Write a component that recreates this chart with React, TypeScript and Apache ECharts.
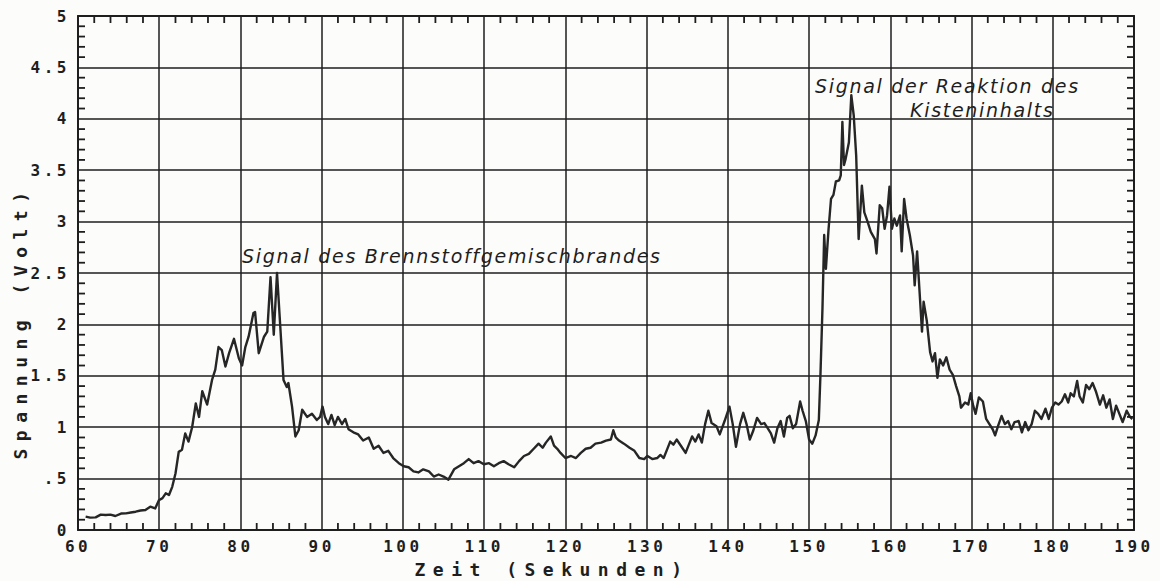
import React, { useEffect, useRef } from "react";
import * as echarts from "echarts";

// ---- data (seconds, volts) ----
const times: number[] = [
  60.94, 61.5, 62.17, 62.8, 63.4, 64.0, 64.6, 65.3, 65.9, 66.5, 67.1, 67.7, 68.3, 68.9, 69.5,
  69.96, 70.4, 70.8, 71.2, 71.6, 72.0, 72.4, 72.8, 73.2, 73.6, 74.05, 74.5, 74.9, 75.3, 75.9,
  76.5, 76.9, 77.3, 77.7, 78.15, 78.6, 79.2, 79.8, 80.2, 80.6, 81.0, 81.6, 81.8, 82.25, 82.9,
  83.3, 83.7, 84.1, 84.5, 84.9, 85.3, 85.7, 85.9, 86.35, 86.76, 87.17, 87.6, 88.2, 88.8, 89.4,
  89.8, 90.1, 90.4, 90.8, 91.2, 91.6, 92.0, 92.5, 92.9, 93.3, 93.9, 94.5, 95.1, 95.8, 96.4,
  97.0, 97.6, 98.2, 98.8, 99.5, 100.1, 100.7, 101.3, 101.9, 102.5, 103.2, 103.8, 104.4, 105.0, 105.6,
  106.3, 106.9, 107.5, 108.1, 108.7, 109.3, 109.96, 110.6, 111.2, 111.8, 112.4, 113.0, 113.7, 114.3, 114.9,
  115.5, 116.1, 116.7, 117.2, 117.6, 118.2, 118.6, 119.0, 119.4, 120.0, 120.7, 121.3, 121.9, 122.5, 123.1,
  123.7, 124.4, 125.0, 125.6, 125.9, 126.2, 126.6, 127.2, 127.9, 128.5, 129.1, 129.7, 130.1, 130.7, 131.3,
  131.7, 132.1, 132.5, 132.9, 133.3, 133.7, 134.3, 134.8, 135.2, 135.6, 136.0, 136.4, 136.8, 137.2, 137.6,
  138.0, 138.6, 139.0, 139.6, 140.2, 140.6, 141.0, 141.5, 141.9, 142.3, 142.7, 143.1, 143.6, 144.1, 144.5,
  144.9, 145.3, 145.7, 146.1, 146.5, 146.9, 147.3, 147.6, 148.0, 148.4, 148.9, 149.2, 149.6, 150.0, 150.4,
  150.8, 151.2, 151.4, 151.65, 151.86, 152.07, 152.4, 152.7, 153.0, 153.3, 153.7, 153.9, 154.1, 154.3, 154.5,
  154.9, 155.2, 155.5, 155.8, 156.1, 156.5, 156.8, 157.2, 157.6, 158.1, 158.3, 158.7, 159.0, 159.3, 159.6,
  159.9, 160.2, 160.5, 160.8, 161.2, 161.4, 161.7, 162.0, 162.4, 162.8, 163.0, 163.3, 163.6, 163.9, 164.1,
  164.5, 164.9, 165.2, 165.5, 165.8, 166.1, 166.5, 166.9, 167.3, 167.7, 168.1, 168.5, 168.7, 169.2, 169.6,
  169.9, 170.2, 170.5, 170.9, 171.4, 171.8, 172.2, 172.6, 172.9, 173.3, 173.7, 174.1, 174.5, 174.9, 175.3,
  175.8, 176.2, 176.6, 177.0, 177.4, 177.8, 178.2, 178.6, 179.1, 179.5, 179.9, 180.3, 180.7, 181.1, 181.5,
  181.9, 182.2, 182.6, 183.0, 183.3, 183.7, 184.1, 184.5, 184.9, 185.3, 185.8, 186.2, 186.6, 187.0, 187.4,
  187.8, 188.2, 188.6, 189.1, 189.5, 189.8,
];

const volts: number[] = [
  0.13, 0.12, 0.123, 0.15, 0.146, 0.15, 0.136, 0.16, 0.162, 0.17, 0.178, 0.19, 0.195, 0.227, 0.21,
  0.29, 0.31, 0.357, 0.34, 0.42, 0.55, 0.76, 0.78, 0.94, 0.86, 1.0, 1.23, 1.1, 1.35, 1.22,
  1.46, 1.56, 1.78, 1.75, 1.59, 1.72, 1.86, 1.67, 1.6, 1.78, 1.88, 2.11, 2.12, 1.72, 1.88,
  1.93, 2.46, 1.9, 2.5, 1.98, 1.46, 1.39, 1.43, 1.2, 0.91, 0.97, 1.17, 1.1, 1.13, 1.07,
  1.1, 1.2, 1.1, 1.03, 1.12, 1.02, 1.1, 1.03, 1.08, 0.98, 0.95, 0.93, 0.87, 0.9, 0.79,
  0.82, 0.75, 0.77, 0.7, 0.65, 0.62, 0.61, 0.57, 0.56, 0.59, 0.57, 0.52, 0.54, 0.52, 0.49,
  0.59, 0.62, 0.65, 0.69, 0.65, 0.67, 0.64, 0.65, 0.62, 0.65, 0.67, 0.64, 0.61, 0.67, 0.72,
  0.74, 0.79, 0.84, 0.8, 0.85, 0.91, 0.82, 0.79, 0.75, 0.7, 0.72, 0.7, 0.75, 0.79, 0.8,
  0.84, 0.85, 0.87, 0.88, 0.97, 0.9, 0.87, 0.84, 0.8, 0.77, 0.7, 0.69, 0.72, 0.69, 0.7,
  0.73, 0.7, 0.78, 0.86, 0.83, 0.88, 0.81, 0.75, 0.83, 0.91, 0.86, 0.93, 0.85, 1.03, 1.16,
  1.04, 1.01, 0.93, 1.06, 1.2, 1.03, 0.81, 1.03, 1.14, 1.03, 0.88, 0.96, 1.09, 1.03, 1.04,
  0.99, 0.94, 0.85, 0.99, 1.06, 0.91, 1.09, 1.11, 0.99, 1.03, 1.25, 1.16, 1.06, 0.88, 0.84,
  0.92, 1.07, 1.51, 2.16, 2.87, 2.54, 2.93, 3.22, 3.26, 3.39, 3.4, 3.45, 3.97, 3.55, 3.61,
  3.77, 4.23, 4.03, 3.64, 2.83, 3.35, 3.09, 3.0, 2.9, 2.83, 2.69, 3.16, 3.13, 2.93, 3.06,
  3.34, 2.93, 3.03, 2.96, 3.06, 2.71, 3.22, 3.03, 2.87, 2.67, 2.38, 2.71, 2.32, 1.93, 2.22,
  2.03, 1.73, 1.64, 1.72, 1.48, 1.66, 1.6, 1.68, 1.56, 1.51, 1.4, 1.3, 1.19, 1.24, 1.22,
  1.33, 1.21, 1.13, 1.29, 1.25, 1.08, 1.03, 0.98, 0.92, 1.02, 1.11, 1.03, 1.06, 0.98, 1.05,
  1.06, 0.95, 1.05, 0.97, 1.03, 1.16, 1.13, 1.08, 1.18, 1.08, 1.19, 1.24, 1.22, 1.25, 1.32,
  1.24, 1.33, 1.3, 1.45, 1.3, 1.24, 1.41, 1.37, 1.43, 1.35, 1.22, 1.31, 1.19, 1.27, 1.08,
  1.21, 1.13, 1.05, 1.16, 1.1, 1.08,
];

const yTickLabels: string[] = ["0", ".5", "1", "1.5", "2", "2.5", "3", "3.5", "4", "4.5", "5"];

// fine tick marks along the frame (every 2 s, every 0.1 V)
const xFineTicks: number[] = [
  62, 64, 66, 68, 72, 74, 76, 78, 82, 84, 86, 88, 92, 94, 96, 98,
  102, 104, 106, 108, 112, 114, 116, 118, 122, 124, 126, 128, 132, 134, 136, 138,
  142, 144, 146, 148, 152, 154, 156, 158, 162, 164, 166, 168, 172, 174, 176, 178,
  182, 184, 186, 188,
];
const yFineTicks: number[] = [
  0.1, 0.2, 0.3, 0.4, 0.6, 0.7, 0.8, 0.9, 1.1, 1.2, 1.3, 1.4, 1.6, 1.7, 1.8, 1.9,
  2.1, 2.2, 2.3, 2.4, 2.6, 2.7, 2.8, 2.9, 3.1, 3.2, 3.3, 3.4, 3.6, 3.7, 3.8, 3.9,
  4.1, 4.2, 4.3, 4.4, 4.6, 4.7, 4.8, 4.9,
];
const xMin = 60;
const xMax = 190;
const yMin = 0;
const yMax = 5;

const xTitle = "Zeit (Sekunden)";
const yTitle = "Spannung (Volt)";
const note1 = "Signal des Brennstoffgemischbrandes";
const note2a = "Signal der Reaktion des";
const note2b = "Kisteninhalts";

const INK = "#1e1e1e";
const MONO = "DejaVu Sans Mono";
const TICK_LEN = 7;

export default function App() {
  const ref = useRef<HTMLDivElement>(null);

  useEffect(() => {
    if (!ref.current) return;
    const chart = echarts.init(ref.current, undefined, { renderer: "svg" });
    const data = times.map((t, i) => [t, volts[i]]);

    const axisLabel = {
      color: INK,
      fontFamily: MONO,
      fontWeight: "bold" as const,
      fontSize: 16,
    };

    const frameLine = { show: true, onZero: false, lineStyle: { color: INK, width: 2 } };
    const gridLine = { show: true, lineStyle: { color: INK, width: 1.5 } };

    const xMain = (position: "bottom" | "top", labels: boolean) => ({
      type: "value" as const,
      position,
      min: xMin,
      max: xMax,
      interval: 10,
      axisLine: frameLine,
      axisTick: { show: false },
      axisLabel: labels ? { ...axisLabel, margin: 8 } : { show: false },
      splitLine: labels ? gridLine : { show: false },
    });
    const yMain = (position: "left" | "right", labels: boolean) => ({
      type: "value" as const,
      position,
      min: yMin,
      max: yMax,
      interval: 0.5,
      axisLine: frameLine,
      axisTick: { show: false },
      axisLabel: labels
        ? {
            ...axisLabel,
            margin: 8,
            formatter: (v: number) => yTickLabels[Math.round(v / 0.5)] ?? "",
          }
        : { show: false },
      splitLine: labels ? gridLine : { show: false },
    });

    const textEl = (
      text: string,
      x: number,
      y: number,
      font: { family: string; size: number; weight?: string; style?: string },
      align: "left" | "center",
      rotation = 0
    ) => ({
      type: "text",
      x,
      y,
      rotation,
      silent: true,
      z: 10,
      style: {
        text,
        fill: INK,
        fontFamily: font.family,
        fontSize: font.size,
        fontWeight: font.weight ?? "normal",
        fontStyle: font.style ?? "normal",
        textAlign: align,
        textVerticalAlign: "middle",
      },
    });

    const titleFont = { family: MONO, size: 18, weight: "bold" };
    const noteFont = { family: "DejaVu Sans", size: 19, style: "italic" };
    const texts = [
      textEl(xTitle, 552, 569, titleFont, "center"),
      textEl(yTitle, 20, 322, titleFont, "center", Math.PI / 2),
      textEl(note1, 242, 256, noteFont, "left"),
      textEl(note2a, 815, 86, noteFont, "left"),
      textEl(note2b, 910, 110, noteFont, "left"),
    ];

    chart.setOption({
      animation: false,
      backgroundColor: "#fcfcfb",
      grid: { left: 78, right: 26, top: 16, bottom: 51 },
      xAxis: [xMain("bottom", true), xMain("top", false)],
      yAxis: [yMain("left", true), yMain("right", false)],
      series: [
        {
          type: "line",
          xAxisIndex: 0,
          yAxisIndex: 0,
          data,
          showSymbol: false,
          symbol: "none",
          silent: true,
          lineStyle: { color: "#262626", width: 2.4, join: "round" },
        },
      ],
      graphic: texts,
    });

    // fine frame ticks, placed through the chart's own axis scales
    const toPx = (v: number[]) => chart.convertToPixel({ gridIndex: 0 }, v) as number[];
    const tickStyle = { stroke: INK, lineWidth: 1.8 };
    const ticks: any[] = [];
    xFineTicks.forEach((v) => {
      const [x, yb] = toPx([v, yMin]);
      const yt = toPx([v, yMax])[1];
      ticks.push({ type: "line", silent: true, z: 9, shape: { x1: x, y1: yb, x2: x, y2: yb - TICK_LEN }, style: tickStyle });
      ticks.push({ type: "line", silent: true, z: 9, shape: { x1: x, y1: yt, x2: x, y2: yt + TICK_LEN }, style: tickStyle });
    });
    yFineTicks.forEach((v) => {
      const [xl, y] = toPx([xMin, v]);
      const xr = toPx([xMax, v])[0];
      ticks.push({ type: "line", silent: true, z: 9, shape: { x1: xl, y1: y, x2: xl + TICK_LEN, y2: y }, style: tickStyle });
      ticks.push({ type: "line", silent: true, z: 9, shape: { x1: xr, y1: y, x2: xr - TICK_LEN, y2: y }, style: tickStyle });
    });
    chart.setOption({ graphic: [...texts, ...ticks] });

    return () => chart.dispose();
  }, []);

  return (
    <>
      <style>{`
        .plot svg text[style*="16px"] { letter-spacing: 3.5px; }
        .plot svg text[style*="18px"] { letter-spacing: 7.5px; }
        .plot svg text[style*="19px"] { letter-spacing: 1.7px; }
      `}</style>
      <div
        ref={ref}
        className="plot"
        style={{ position: "fixed", left: 0, top: 0, width: 1160, height: 581 }}
      />
    </>
  );
}
